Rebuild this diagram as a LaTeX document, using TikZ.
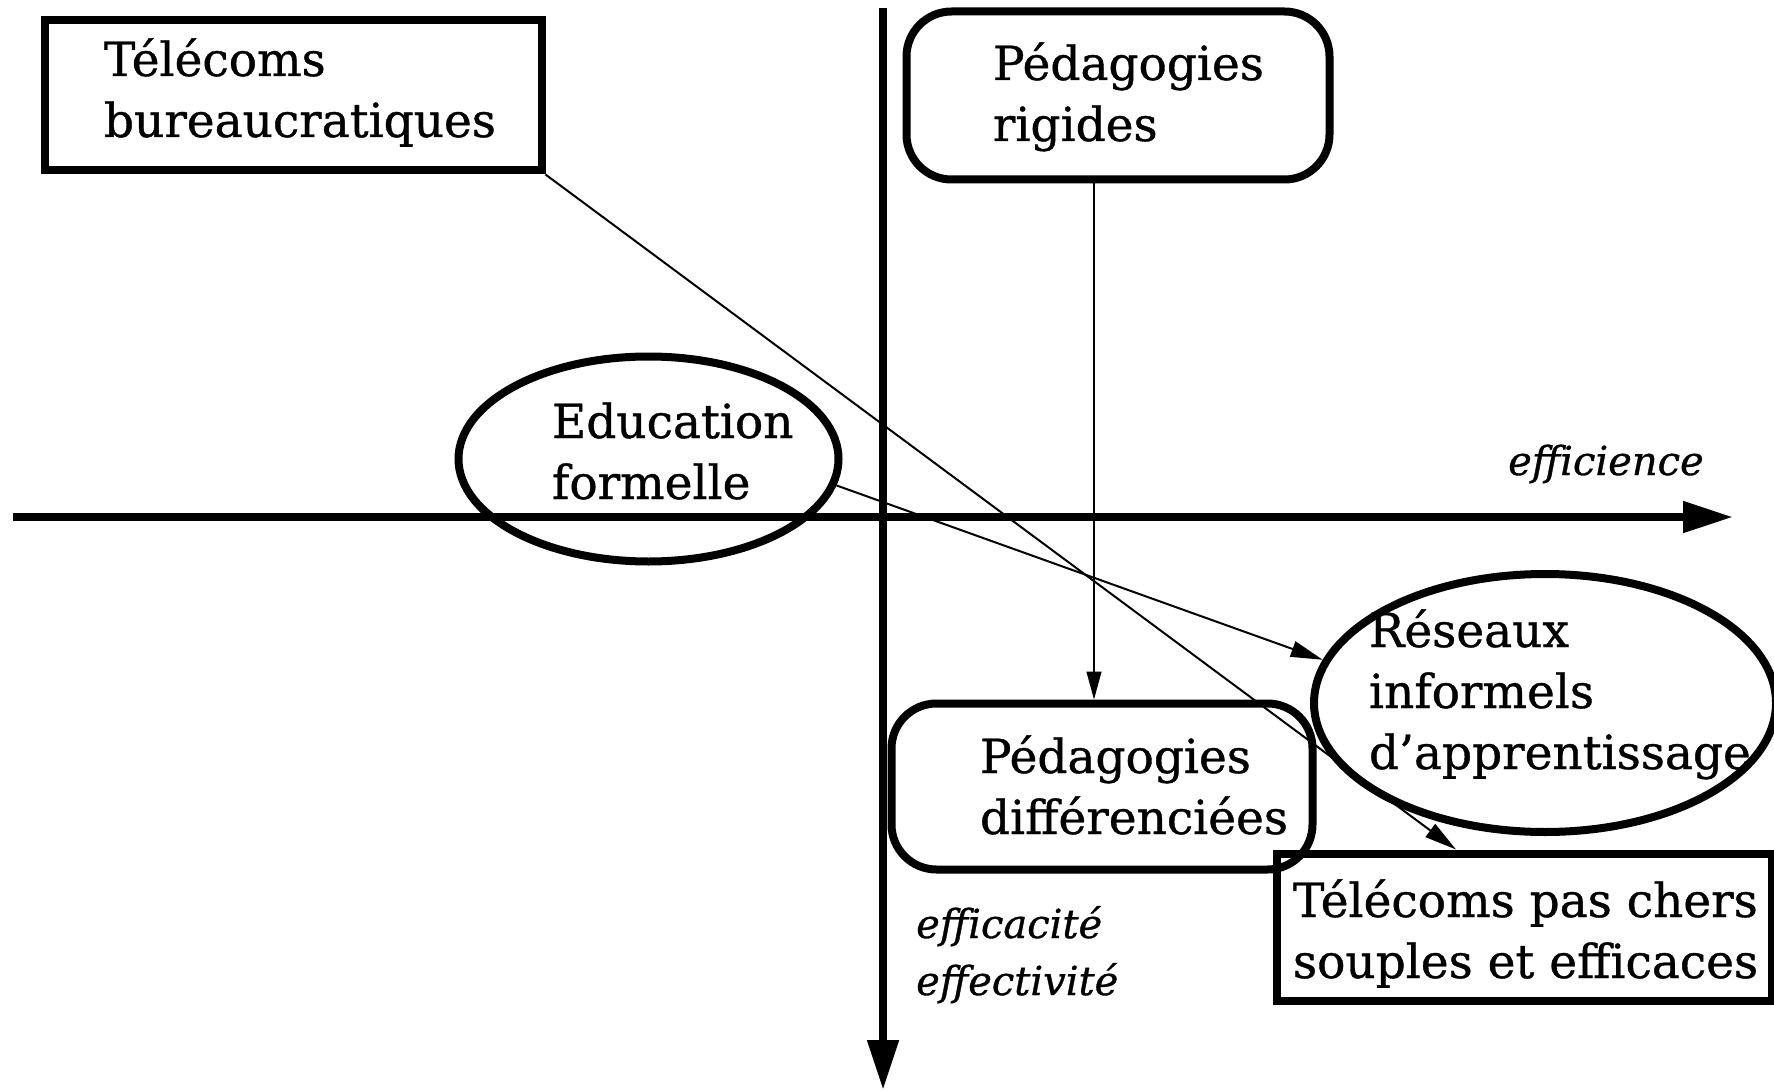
\documentclass[tikz,border=0pt]{standalone}
\usepackage{fontspec}
\setmainfont{DejaVu Serif}[FakeBold=0.8]
\usetikzlibrary{arrows.meta,shapes.geometric}
\newcommand{\placetxt}[3]{\makebox[0pt][l]{\hspace*{#1}\raisebox{#2}[0pt][0pt]{\begin{tabular}[t]{@{}l@{}}#3\end{tabular}}}}
\tikzset{
  thickshape/.style={draw, line width=8pt, inner sep=0pt, font=\fontsize{47}{61}\selectfont},
  sqbox/.style={thickshape, rectangle},
  rbox/.style={thickshape, rectangle, rounded corners=45pt},
  ebox/.style={thickshape, ellipse},
  axisline/.style={line width=8pt, -{Triangle[length=50pt,width=30pt]}},
  link/.style={line width=2pt, -{Triangle[length=32pt,width=16pt]}},
  thinlink/.style={line width=1.3pt, -{Triangle[length=28pt,width=15pt]}},
  lab/.style={font=\fontsize{40}{57}\selectfont\itshape, inner sep=0pt, anchor=base west}
}
\begin{document}
\begin{tikzpicture}[x=1pt, y=-1pt]
\useasboundingbox (0,0) rectangle (1774,1091);
% axes
\coordinate (hx0) at (13,517);
\coordinate (hx1) at (1733,517);
\coordinate (vy0) at (883,8);
\coordinate (vy1) at (883,1090);
\draw[axisline] (hx0) -- (hx1);
\draw[axisline] (vy0) -- (vy1);
% nodes
\node[sqbox, minimum width=497pt, minimum height=150pt] (tb) at (293,95.5)
  {\placetxt{-189pt}{19.5pt}{Télécoms\\bureaucratiques}};
\node[rbox, minimum width=423pt, minimum height=168pt] (pr) at (1118,95.5)
  {\placetxt{-125pt}{15.5pt}{Pédagogies\\rigides}};
\node[rbox, minimum width=421pt, minimum height=166pt] (pd) at (1102,786.5)
  {\placetxt{-122pt}{13.5pt}{Pédagogies\\différenciées}};
\node[sqbox, minimum width=495pt, minimum height=147pt] (tpc) at (1524,927)
  {\placetxt{-231pt}{10pt}{Télécoms pas chers\\souples et efficaces}};
\node[ebox, minimum width=380pt, minimum height=205pt] (ef) at (648.5,459)
  {\placetxt{-96.5pt}{21pt}{Education\\formelle}};
\node[ebox, minimum width=462pt, minimum height=258pt] (re) at (1545,703)
  {\placetxt{-176pt}{56pt}{Réseaux\\informels\\d’apprentissage}};
% labels
\node[lab] (lef) at (1508,475) {efficience};
\node[lab] (lea) at (916,938) {\begin{tabular}[t]{@{}l@{}}efficacité\\effectivité\end{tabular}};
% connectors
\draw[link] (tb.south east) -- ([xshift=-68pt]tpc.north);
\draw[link] (ef.-8) -- (re.169);
\coordinate (vtop) at ([xshift=-24pt]pr.south);
\draw[thinlink] (vtop) -- (vtop |- pd.north);
\end{tikzpicture}
\end{document}
